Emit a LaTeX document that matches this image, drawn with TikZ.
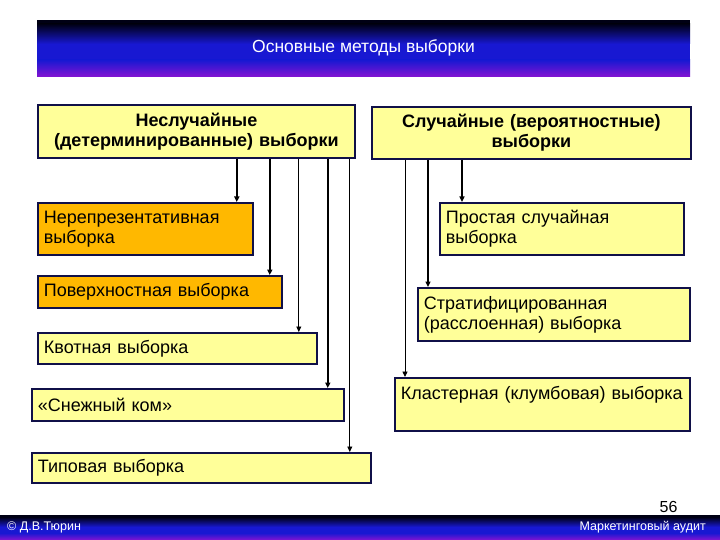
\documentclass[tikz,border=0pt]{standalone}
\usepackage{fontspec}
\setmainfont{Liberation Sans}
\usetikzlibrary{arrows.meta}
\definecolor{boxfill}{RGB}{255,255,153}
\definecolor{orangefill}{RGB}{255,184,0}
\definecolor{boxline}{RGB}{16,16,72}
\definecolor{tbblack}{RGB}{0,0,20}
\definecolor{tbblue}{RGB}{24,24,210}
\definecolor{tbpurple}{RGB}{130,20,210}
\begin{document}
\begin{tikzpicture}[x=1pt,y=-1pt,
  box/.style={draw=boxline, line width=1.8pt, fill=boxfill, anchor=north west,
    inner xsep=6pt, inner ysep=0pt, align=left, font=\fontsize{18}{20}\selectfont},
  orangebox/.style={box, fill=orangefill},
  head/.style={box, align=center, font=\fontsize{18}{20}\selectfont\bfseries},
  arr/.style={line width=1.5pt, -{Triangle[length=5.5pt,width=5pt]}},
  arrthin/.style={line width=0.9pt, -{Triangle[length=5.5pt,width=5pt]}},
  bartext/.style={text=white, inner sep=0pt}]
\fill[white] (0,0) rectangle (720,540);
\useasboundingbox (0,0) rectangle (720,540);
% title bar
\fill[tbblack] (37,20) rectangle (690,24);
\shade[top color=tbblack, bottom color=tbblue] (37,24) rectangle (690,44);
\fill[tbblue] (37,44) rectangle (690,60);
\shade[top color=tbblue, bottom color=tbpurple] (37,60) rectangle (690,76.5);
\node[bartext, font=\fontsize{17.5}{20}\selectfont] (title) at (363.5,48) {Основные методы выборки};
% footer bar
\fill[tbblack] (0,515) rectangle (720,517);
\shade[top color=tbblack, bottom color=tbblue] (0,517) rectangle (720,527);
\fill[tbblue] (0,527) rectangle (720,533);
\shade[top color=tbblue, bottom color=tbpurple] (0,533) rectangle (720,540);
\node[bartext, anchor=west, font=\fontsize{12.5}{14}\selectfont] (author) at (7,527.5) {© Д.В.Тюрин};
\node[bartext, anchor=east, font=\fontsize{12.5}{14}\selectfont] (course) at (706,527.5) {Маркетинговый аудит};
\node[inner sep=0pt, font=\fontsize{16}{18}\selectfont] (page) at (668.5,507) {56};
% headers
\node[head, minimum width=317pt, minimum height=53pt, text width=305pt] (lh) at (37,104)
  {Неслучайные\\(детерминированные) выборки};
\node[head, minimum width=319pt, minimum height=52pt, text width=307pt] (rh) at (371,106)
  {Случайные (вероятностные)\\выборки};
% left boxes
\node[orangebox, minimum width=215pt, minimum height=52pt, text width=203pt] (n1) at (37,202)
  {Нерепрезентативная\\выборка};
\node[orangebox, minimum width=244pt, minimum height=32pt, text width=232pt] (n2) at (37,275)
  {Поверхностная выборка};
\node[box, minimum width=279pt, minimum height=31pt, text width=267pt] (n3) at (37,332)
  {Квотная выборка};
\node[box, minimum width=312pt, minimum height=32pt, text width=300pt] (n4) at (31,388)
  {«Снежный ком»};
\node[box, minimum width=339pt, minimum height=30pt, text width=327pt] (n5) at (31,452)
  {Типовая выборка};
% right boxes
\node[box, minimum width=244pt, minimum height=52pt, text width=232pt] (r1) at (439,202)
  {Простая случайная\\выборка};
\node[box, minimum width=272pt, minimum height=53pt, text width=260pt] (r2) at (417,287)
  {Стратифицированная\\(расслоенная) выборка};
\node[box, minimum width=295pt, minimum height=53pt, text width=283pt] (r3) at (394,377)
  {Кластерная (клумбовая) выборка\\\mbox{\vphantom{р}}};
% arrow end points
\coordinate (a1) at ([xshift=-17pt]n1.north east);
\coordinate (a2) at ([xshift=-13pt]n2.north east);
\coordinate (a3) at ([xshift=-19pt]n3.north east);
\coordinate (a4) at ([xshift=-17pt]n4.north east);
\coordinate (a5) at ([xshift=-22pt]n5.north east);
\coordinate (b1) at ([xshift=23pt]r1.north west);
\coordinate (b2) at ([xshift=11pt]r2.north west);
\coordinate (b3) at ([xshift=11pt]r3.north west);
% connectors
\draw[arr] (lh.south -| a1) -- (a1);
\draw[arr] (lh.south -| a2) -- (a2);
\draw[arrthin] (lh.south -| a3) -- (a3);
\draw[arr] (lh.south -| a4) -- (a4);
\draw[arrthin] (lh.south -| a5) -- (a5);
\draw[arr] (rh.south -| b1) -- (b1);
\draw[arr] (rh.south -| b2) -- (b2);
\draw[arrthin] (rh.south -| b3) -- (b3);
\end{tikzpicture}
\end{document}
